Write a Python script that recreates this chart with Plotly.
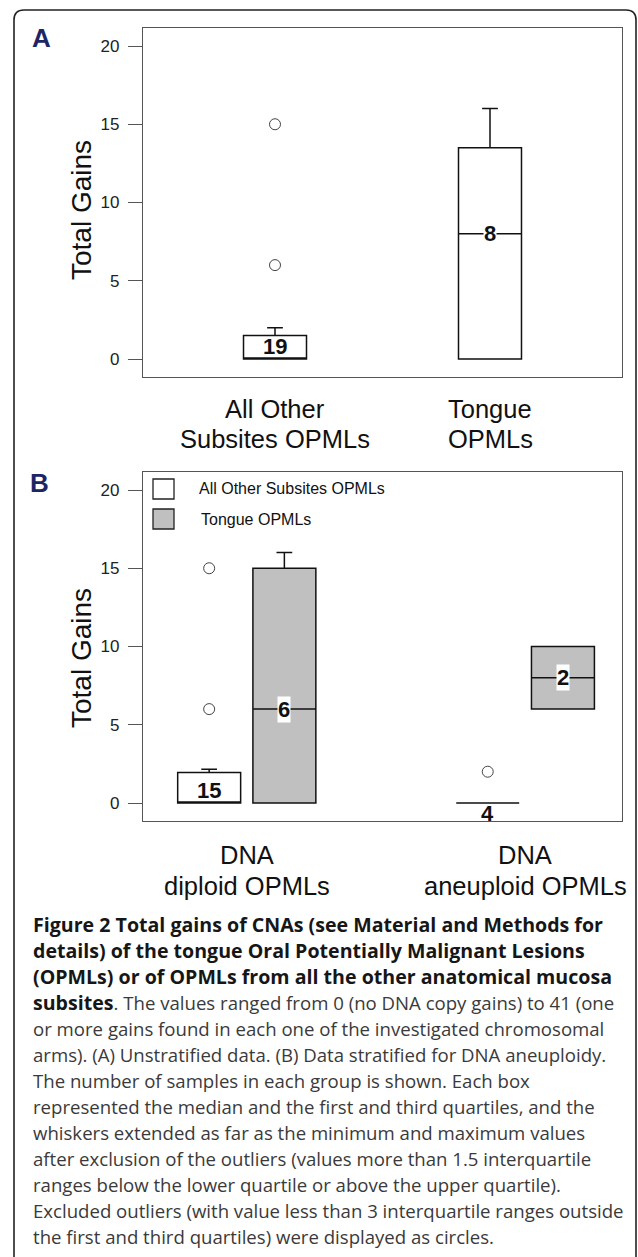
import plotly.graph_objects as go

W, H = 638, 1257

# ---------------- data ----------------
y_ticks = [0, 5, 10, 15, 20]

# Panel A (unstratified)
a_categories = ["All Other<br>Subsites OPMLs", "Tongue<br>OPMLs"]
a_q1 = [0, 0]
a_median = [0, 8]
a_q3 = [1.5, 13.5]
a_lower = [0, 0]
a_upper = [2, 16]
a_n = [19, 8]
a_outliers = [[15, 6], []]

# Panel B (stratified for DNA ploidy)
b_categories = ["DNA<br>diploid OPMLs", "DNA<br>aneuploid OPMLs"]
b_series = ["All Other Subsites OPMLs", "Tongue OPMLs"]
b_other_q1 = [0, 0]
b_other_median = [0, 0]
b_other_q3 = [1.95, 0]
b_other_lower = [0, 0]
b_other_upper = [2.15, 0]
b_other_n = [15, 4]
b_other_outliers = [[15, 6], [2]]
b_tongue_q1 = [0, 6]
b_tongue_median = [6, 8]
b_tongue_q3 = [15, 10]
b_tongue_lower = [0, 6]
b_tongue_upper = [16, 10]
b_tongue_n = [6, 2]
b_tongue_outliers = [[], []]

caption_lines = [
    "<b>Figure 2 Total gains of CNAs (see Material and Methods for</b>",
    "<b>details) of the tongue Oral Potentially Malignant Lesions</b>",
    "<b>(OPMLs) or of OPMLs from all the other anatomical mucosa</b>",
    "<b>subsites</b>. The values ranged from 0 (no DNA copy gains) to 41 (one",
    "or more gains found in each one of the investigated chromosomal",
    "arms). (A) Unstratified data. (B) Data stratified for DNA aneuploidy.",
    "The number of samples in each group is shown. Each box",
    "represented the median and the first and third quartiles, and the",
    "whiskers extended as far as the minimum and maximum values",
    "after exclusion of the outliers (values more than 1.5 interquartile",
    "ranges below the lower quartile or above the upper quartile).",
    "Excluded outliers (with value less than 3 interquartile ranges outside",
    "the first and third quartiles) were displayed as circles.",
]

# ---------------- styles ----------------
FILL_OTHER = "white"
FILL_TONGUE = "#c0c0c0"
AX_FONT = "Liberation Sans, Arial, sans-serif"
CAP_FONT = "Open Sans, sans-serif"
NAVY = "#1c2566"


def px(xp):
    return xp / W


def py(yp):
    return 1 - yp / H


fig = go.Figure()


def add_boxes(xs, q1, med, q3, lo, hi, fill, xa, ya, width):
    fig.add_trace(go.Box(
        x=xs, q1=q1, median=med, q3=q3, lowerfence=lo, upperfence=hi,
        fillcolor=fill, line=dict(color="#111", width=1.5),
        whiskerwidth=0.25, width=width, xaxis=xa, yaxis=ya,
        showlegend=False, hoverinfo="skip", boxpoints=False))


def add_outliers(xs, outs, xa, ya):
    ox, oy = [], []
    for x, vals in zip(xs, outs):
        for v in vals:
            ox.append(x)
            oy.append(v)
    if ox:
        fig.add_trace(go.Scatter(
            x=ox, y=oy, mode="markers", xaxis=xa, yaxis=ya,
            marker=dict(symbol="circle-open", size=11, color="#444",
                        line=dict(width=1)),
            showlegend=False, hoverinfo="skip"))


annotations = []


def add_counts(xs, q1, med, q3, ns, xref, yref):
    for x, a, m, b, n in zip(xs, q1, med, q3, ns):
        base = dict(x=x, xref=xref, yref=yref, showarrow=False,
                    text=f"<b>{n}</b>", borderpad=0,
                    font=dict(family=AX_FONT, size=22, color="#111"))
        if b - a >= 3:
            base.update(y=m, yanchor="middle", bgcolor="white")
        elif b > a:
            base.update(y=a, yanchor="bottom", yshift=-1)
        else:
            base.update(y=a, yanchor="top", yshift=3)
        annotations.append(base)


# Panel A
a_pos = [i + 1 for i in range(len(a_categories))]
a_width = 0.293
add_boxes(a_pos, a_q1, a_median, a_q3, a_lower, a_upper, FILL_OTHER, "x", "y", a_width)
add_outliers(a_pos, a_outliers, "x", "y")
add_counts(a_pos, a_q1, a_median, a_q3, a_n, "x", "y")

# Panel B
off = 0.135
b_width = 0.226
b_other_pos = [i + 1 - off for i in range(len(b_categories))]
b_tongue_pos = [i + 1 + off for i in range(len(b_categories))]
add_boxes(b_other_pos, b_other_q1, b_other_median, b_other_q3, b_other_lower,
          b_other_upper, FILL_OTHER, "x2", "y2", b_width)
add_boxes(b_tongue_pos, b_tongue_q1, b_tongue_median, b_tongue_q3, b_tongue_lower,
          b_tongue_upper, FILL_TONGUE, "x2", "y2", b_width)
add_outliers(b_other_pos, b_other_outliers, "x2", "y2")
add_outliers(b_tongue_pos, b_tongue_outliers, "x2", "y2")
add_counts(b_other_pos, b_other_q1, b_other_median, b_other_q3, b_other_n, "x2", "y2")
add_counts(b_tongue_pos, b_tongue_q1, b_tongue_median, b_tongue_q3, b_tongue_n, "x2", "y2")


# category labels
def add_cats(positions, cats, xref, y_first, spacing):
    for x, c in zip(positions, cats):
        for k, line in enumerate(c.split("<br>")):
            annotations.append(dict(
                x=x, xref=xref, y=py(y_first + k * spacing), yref="paper",
                text=line, showarrow=False, yanchor="middle",
                font=dict(family=AX_FONT, size=25.5, color="#111")))


add_cats(a_pos, a_categories, "x", 409, 30)
add_cats([i + 1 for i in range(len(b_categories))], b_categories, "x2", 855, 31)

# axis titles
for yc in (210, 658):
    annotations.append(dict(
        x=px(81), y=py(yc), xref="paper", yref="paper", text="Total Gains",
        textangle=-90, showarrow=False, xanchor="center", yanchor="middle",
        font=dict(family=AX_FONT, size=28, color="#111")))

# panel letters
for letter, (xc, yc) in (("A", (41.5, 38)), ("B", (39.5, 483))):
    annotations.append(dict(
        x=px(xc), y=py(yc), xref="paper", yref="paper", text=f"<b>{letter}</b>",
        showarrow=False, xanchor="center", yanchor="middle",
        font=dict(family=AX_FONT, size=26, color=NAVY)))

# legend (panel B)
shapes = []
legend_fills = [FILL_OTHER, FILL_TONGUE]
for k, (name, fill) in enumerate(zip(b_series, legend_fills)):
    y0 = 479 + k * 30
    shapes.append(dict(type="rect", xref="paper", yref="paper",
                       x0=px(153), x1=px(174), y0=py(y0), y1=py(y0 + 20),
                       fillcolor=fill, line=dict(color="#222", width=1.3)))
    annotations.append(dict(
        x=px(197 + 2 * k), y=py(y0 + 10), xref="paper", yref="paper", text=name,
        showarrow=False, xanchor="left", yanchor="middle",
        font=dict(family=AX_FONT, size=16, color="#111")))

# caption
for k, line in enumerate(caption_lines):
    line = line.replace(
        "<b>", "<b><span style='color:#161616;font-size:19.6px'>"
    ).replace("</b>", "</span></b>")
    annotations.append(dict(
        x=px(31), y=py(924 + 26 * k), xref="paper", yref="paper", text=line,
        showarrow=False, xanchor="left", yanchor="middle", align="left",
        font=dict(family=CAP_FONT, size=18.6, color="#3a3a3a")))

# rounded outer frame (open at the bottom)
x0, x1, yt, r = 14, 636, 10, 10
rx, ry = r / W, r / H
path = (f"M {px(x0)},{-0.02} L {px(x0)},{py(yt) - ry} "
        f"Q {px(x0)},{py(yt)} {px(x0) + rx},{py(yt)} "
        f"L {px(x1) - rx},{py(yt)} Q {px(x1)},{py(yt)} {px(x1)},{py(yt) - ry} "
        f"L {px(x1)},{-0.02}")
shapes.append(dict(type="path", xref="paper", yref="paper", path=path,
                   line=dict(color="#222", width=1.6)))

axis_common = dict(showline=True, mirror=True, linecolor="#555", linewidth=1.3,
                   showgrid=False, zeroline=False)
yaxis_common = dict(axis_common, range=[-1.15, 21.15], tickvals=y_ticks,
                    ticks="outside", ticklen=14, tickwidth=1, tickcolor="#555",
                    ticklabelstandoff=5,
                    tickfont=dict(family=AX_FONT, size=17, color="#222"))
xdom = [px(143), px(622)]

fig.update_layout(
    width=W, height=H, margin=dict(l=0, r=0, t=0, b=0),
    paper_bgcolor="white", plot_bgcolor="white", boxmode="overlay",
    showlegend=False,
    xaxis=dict(axis_common, domain=xdom, anchor="y", range=[0.386, 2.614],
               showticklabels=False, ticks=""),
    yaxis=dict(yaxis_common, domain=[py(377), py(28)], anchor="x"),
    xaxis2=dict(axis_common, domain=xdom, anchor="y2", range=[0.6275, 2.347],
                showticklabels=False, ticks=""),
    yaxis2=dict(yaxis_common, domain=[py(821), py(472)], anchor="x2"),
    annotations=annotations, shapes=shapes,
)

fig.write_html(
    "out.html",
    config={"displayModeBar": False},
    post_script="document.body.style.margin='0';document.body.style.overflow='hidden';",
)
